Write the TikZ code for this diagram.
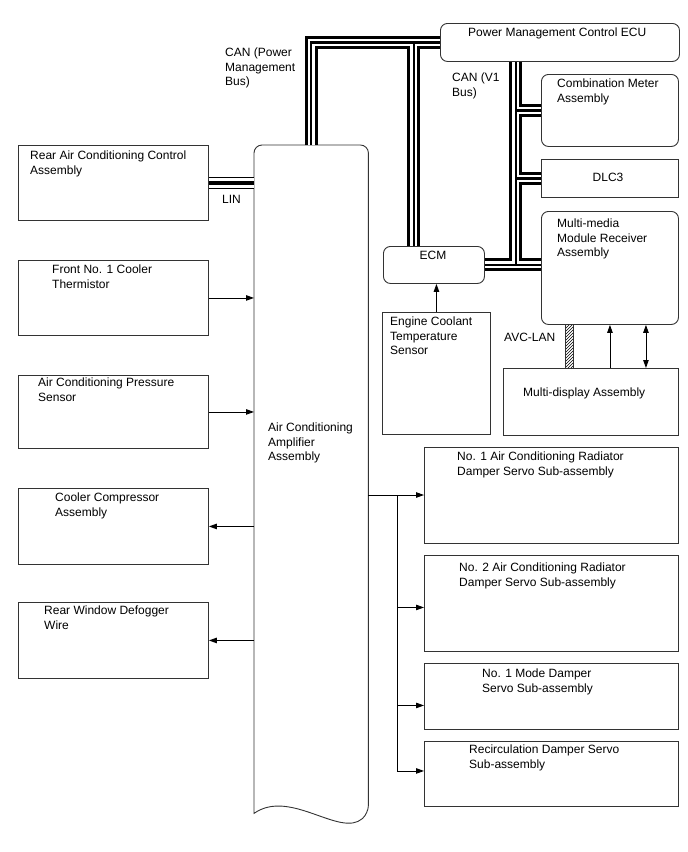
\documentclass[tikz,border=0pt]{standalone}
\usepackage{fontspec}
\setmainfont{Liberation Sans}
\usetikzlibrary{arrows.meta,patterns}
\begin{document}
\begin{tikzpicture}[x=1pt,y=-1pt,
  box/.style={draw=black!80, line width=0.9pt, inner sep=0pt, anchor=north west},
  rbox/.style={box, rounded corners=7pt},
  lbl/.style={anchor=north west, inner sep=0pt, align=left, font=\fontsize{12pt}{14.5pt}\selectfont},
  arr/.style={line width=0.9pt, -{Triangle[length=8pt,width=5.5pt]}},
  darr/.style={line width=0.9pt, {Triangle[length=8pt,width=5.5pt]}-{Triangle[length=8pt,width=5.5pt]}},
  busA/.style={line width=13pt, line join=miter, black},
  busB/.style={line width=7pt, line join=miter, white},
  busC/.style={line width=2.2pt, line join=miter, black},
  linA/.style={line width=12pt, black},
  linB/.style={line width=10pt, white},
  linC/.style={line width=4pt, black}]
\useasboundingbox (0,0) rectangle (688,852);

% boxes
\node[rbox, minimum width=239pt, minimum height=38pt] (pm) at (440,23) {};
\node[rbox, minimum width=137pt, minimum height=72pt] (comb) at (541,74) {};
\node[box, minimum width=137pt, minimum height=38pt] (dlc) at (541,159) {};
\node[rbox, minimum width=137pt, minimum height=113pt] (mmr) at (541,211) {};
\node[box, minimum width=175pt, minimum height=67pt] (mdisp) at (503,368) {};
\node[rbox, minimum width=101pt, minimum height=37pt] (ecm) at (383,246) {};
\node[box, minimum width=108pt, minimum height=122pt] (ects) at (382,312) {};
\node[box, minimum width=190pt, minimum height=75pt] (rear) at (18,145) {};
\node[box, minimum width=190pt, minimum height=75pt] (front) at (18,260) {};
\node[box, minimum width=190pt, minimum height=73pt] (press) at (18,375) {};
\node[box, minimum width=190pt, minimum height=76pt] (comp) at (18,488) {};
\node[box, minimum width=190pt, minimum height=76pt] (defog) at (18,602) {};
\node[box, minimum width=254pt, minimum height=96pt] (d1) at (424,447) {};
\node[box, minimum width=254pt, minimum height=96pt] (d2) at (424,555) {};
\node[box, minimum width=254pt, minimum height=66pt] (d3) at (424,663) {};
\node[box, minimum width=254pt, minimum height=65pt] (d4) at (424,741) {};
\node[inner sep=0pt, anchor=north west, minimum width=114pt, minimum height=668pt] (amp) at (254,145) {};
\draw[draw=black!80, line width=0.9pt] (amp.south west)
  {[rounded corners=8pt] |- (amp.north) -| (amp.south east)}
  .. controls (340,838) and (290,788) .. (amp.south west) -- cycle;

% CAN buses
\foreach \st in {busA,busB,busC}{
  \draw[\st] ([xshift=57pt]amp.north west) |- (pm.west);
  \draw[\st] ([xshift=-20pt]ecm.north) |- (pm.west);
  \draw[\st] ([xshift=-44pt]pm.south) |- (ecm.east -| mmr.west);
  \draw[\st] (ecm.east) -- (ecm.east -| mmr.west);
  \draw[\st] ([xshift=-44pt]pm.south) |- (comb.west);
  \draw[\st] ([xshift=-44pt]pm.south) |- (dlc.west);
}
% LIN
\foreach \st in {linA,linB,linC}{
  \draw[\st] (rear.east) -- (rear.east -| amp.west);
}
% AVC-LAN
\node[draw=black!80, line width=0.7pt, pattern=north east lines, inner sep=0pt,
  anchor=north west, minimum width=8pt, minimum height=44pt] (avc) at (565,324) {};
\draw[arr] (mmr.south |- mdisp.north) -- (mmr.south);
\draw[darr] ([xshift=36pt]mmr.south |- mdisp.north) -- ([xshift=36pt]mmr.south);
% ECM sensor
\draw[arr] (ects.north) -- (ects.north |- ecm.south);

% left arrows
\draw[arr] (front.east) -- (front.east -| amp.west);
\draw[arr] (press.east) -- (press.east -| amp.west);
\draw[arr] (comp.east -| amp.west) -- (comp.east);
\draw[arr] (defog.east -| amp.west) -- (defog.east);

% right damper arrows
\coordinate (split) at (397,495);
\draw[arr] (amp.east |- split) -- (split -| d1.west);
\draw[arr, line join=miter] (split) |- ([yshift=3pt]d4.west);
\draw[arr] (split |- d2.west) ++(0,4) -- ([yshift=-4pt]d2.west);
\draw[arr] (split |- d3.west) ++(0,9) -- ([yshift=-9pt]d3.west);

% labels
\node[lbl] (tcanpm) at (225,48) {CAN (Power\\Management\\Bus)};
\node[lbl] (tcanv1) at (452,73) {CAN (V1\\Bus)};
\node[lbl] (tpm) at (468,28) {Power Management Control ECU};
\node[lbl] (tcomb) at (557,79) {Combination Meter\\Assembly};
\node[lbl, anchor=center] (tdlc) at (608,177) {DLC3};
\node[lbl] (tmmr) at (557,219) {Multi-media\\Module Receiver\\Assembly};
\node[lbl, anchor=north] (tecm) at (433,251) {ECM};
\node[lbl] (tects) at (390,317) {Engine Coolant\\Temperature\\Sensor};
\node[lbl] (tavc) at (504,333) {AVC-LAN};
\node[lbl] (tmdisp) at (523,388) {Multi-display Assembly};
\node[lbl] (trear) at (30,151) {Rear Air Conditioning Control\\Assembly};
\node[lbl] (tlin) at (222,195) {LIN};
\node[lbl] (tfront) at (52,265) {Front No. 1 Cooler\\Thermistor};
\node[lbl] (tpress) at (38,378) {Air Conditioning Pressure\\Sensor};
\node[lbl] (tamp) at (268,423) {Air Conditioning\\Amplifier\\Assembly};
\node[lbl] (tcomp) at (55,493) {Cooler Compressor\\Assembly};
\node[lbl] (tdefog) at (44,606) {Rear Window Defogger\\Wire};
\node[lbl] (td1) at (457,452) {No. 1 Air Conditioning Radiator\\Damper Servo Sub-assembly};
\node[lbl] (td2) at (459,563) {No. 2 Air Conditioning Radiator\\Damper Servo Sub-assembly};
\node[lbl] (td3) at (482,669) {No. 1 Mode Damper\\Servo Sub-assembly};
\node[lbl] (td4) at (469,745) {Recirculation Damper Servo\\Sub-assembly};
\end{tikzpicture}
\end{document}
